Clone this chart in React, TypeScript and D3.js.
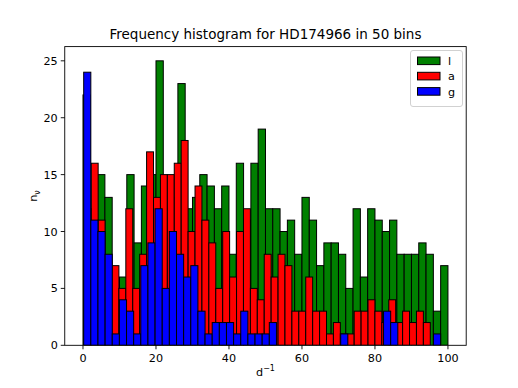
import React from "react";
import * as d3 from "d3";

const title = "Frequency histogram for HD174966 in 50 bins";
const seriesNames = ["l", "a", "g"];
const seriesColors = ["#008000", "#ff0000", "#0000ff"];
// bin ranges [min, max] per series (50 bins each)
const rangeL = [0, 100];
const rangeA = [0.36, 95.16];
const rangeG = [0.19, 98.0];
const countsL = [22, 12, 15, 13, 5, 6, 15, 9, 14, 15, 25, 12, 13, 23, 12, 13, 15, 14, 12, 14, 8, 16, 11, 16, 19, 12, 12, 10, 11, 8, 13, 11, 7, 9, 9, 8, 5, 12, 6, 12, 11, 10, 11, 8, 8, 8, 9, 8, 3, 7];
const countsA = [9, 16, 11, 7, 7, 5, 12, 5, 8, 17, 13, 15, 15, 16, 18, 10, 14, 11, 9, 5, 10, 6, 10, 12, 5, 4, 8, 6, 8, 7, 3, 3, 6, 3, 3, 1, 2, 1, 1, 3, 3, 4, 3, 2, 4, 2, 3, 2, 3, 2];
const countsG = [24, 11, 10, 8, 1, 4, 3, 1, 7, 9, 12, 5, 10, 8, 6, 7, 3, 1, 2, 2, 2, 1, 3, 1, 1, 1, 2, 0, 0, 0, 0, 0, 0, 0, 0, 0, 1, 0, 0, 0, 0, 0, 3, 2, 0, 0, 0, 0, 0, 1];
const xTicks = [0, 20, 40, 60, 80, 100];
const yTicks = [0, 5, 10, 15, 20, 25];

const W = 518, H = 388;
const left = 64.75, right = 466.2, top = 46.6, bottom = 345.3;
const FONT = "DejaVu Sans, sans-serif";

export default function App() {
  const x = d3.scaleLinear().domain([-5, 105]).range([left, right]);
  const y = d3.scaleLinear().domain([0, 26.25]).range([bottom, top]);

  const series = [
    { counts: countsL, range: rangeL, color: seriesColors[0] },
    { counts: countsA, range: rangeA, color: seriesColors[1] },
    { counts: countsG, range: rangeG, color: seriesColors[2] },
  ];

  return (
    <svg width={W} height={H} style={{ position: "absolute", left: 0, top: 0, background: "#fff" }} fontFamily={FONT}>
      <rect x={0} y={0} width={W} height={H} fill="#fff" />
      <defs>
        <clipPath id="plotclip">
          <rect x={left} y={top} width={right - left} height={bottom - top} />
        </clipPath>
      </defs>
      <g clipPath="url(#plotclip)">
        {series.map((s, si) => {
          const w = (s.range[1] - s.range[0]) / s.counts.length;
          return (
            <g key={si}>
              {s.counts.map((c, i) => {
                const x0 = x(s.range[0] + i * w);
                const x1 = x(s.range[0] + (i + 1) * w);
                return (
                  <rect key={i} x={x0} y={y(c)} width={x1 - x0} height={y(0) - y(c)}
                    fill={s.color} stroke="#000" strokeWidth={1} />
                );
              })}
            </g>
          );
        })}
      </g>
      <rect x={left} y={top} width={right - left} height={bottom - top} fill="none" stroke="#000" strokeWidth={0.9} />
      {xTicks.map((t) => (
        <g key={t}>
          <line x1={x(t)} x2={x(t)} y1={bottom} y2={bottom + 4} stroke="#000" strokeWidth={0.9} />
          <text x={x(t)} y={bottom + 17} textAnchor="middle" fontSize={11.2}>{t}</text>
        </g>
      ))}
      {yTicks.map((t) => (
        <g key={t}>
          <line x1={left - 4} x2={left} y1={y(t)} y2={y(t)} stroke="#000" strokeWidth={0.9} />
          <text x={left - 7} y={y(t) + 4} textAnchor="end" fontSize={11.2}>{t}</text>
        </g>
      ))}
      <text x={(left + right) / 2} y={39} textAnchor="middle" fontSize={13.5}>{title}</text>
      <text x={(left + right) / 2} y={376} textAnchor="middle" fontSize={11.2}>
        d<tspan dy={-5} fontSize={8}>−1</tspan>
      </text>
      <text transform={`translate(37, ${(top + bottom) / 2}) rotate(-90)`} textAnchor="middle" fontSize={11.2}>
        n<tspan dy={3} fontSize={8}>ν</tspan>
      </text>
      <g>
        <rect x={410.5} y={50.5} width={52} height={56} rx={2.5} fill="#fff" fillOpacity={0.8} stroke="#ccc" strokeWidth={0.9} />
        {seriesNames.map((n, i) => (
          <g key={n}>
            <rect x={417.5} y={57 + i * 15.3} width={22.5} height={7.6} fill={seriesColors[i]} stroke="#000" strokeWidth={1} />
            <text x={448} y={65 + i * 15.3} fontSize={11.2}>{n}</text>
          </g>
        ))}
      </g>
    </svg>
  );
}
